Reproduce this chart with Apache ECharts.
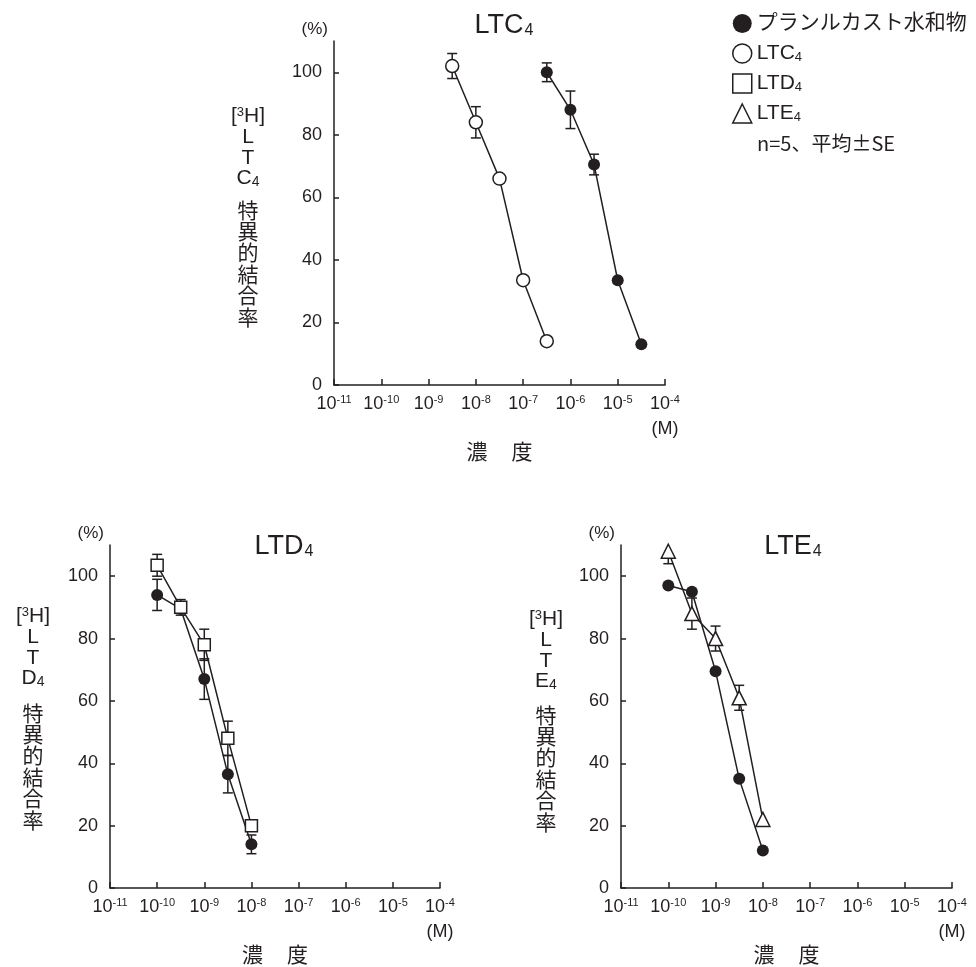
<!DOCTYPE html>
<html>
<head>
<meta charset="utf-8">
<script src="https://cdn.jsdelivr.net/npm/echarts@6/dist/echarts.min.js"></script>
<style>
html,body{margin:0;padding:0;background:#fff;}
#main{width:976px;height:967px;}
</style>
</head>
<body>
<div id="main"></div>
<script>
// ---------- data ----------
const drugName = 'プランルカスト水和物';
const xTickExponents = [-11, -10, -9, -8, -7, -6, -5, -4];
const yTicks = [0, 20, 40, 60, 80, 100];

// LTC4 panel
const ltc4Conc = [3.16e-9, 1e-8, 3.16e-8, 1e-7, 3.16e-7];
const ltc4Values = [102, 84, 66, 33.5, 14];
const ltc4SE = [4, 5, 0, 0, 0];
const ltc4DrugConc = [3.16e-7, 1e-6, 3.16e-6, 1e-5, 3.16e-5];
const ltc4DrugValues = [100, 88, 70.5, 33.5, 13];
const ltc4DrugSE = [3, 6, 3.3, 0, 0];

// LTD4 panel
const ltd4Conc = [1e-10, 3.16e-10, 1e-9, 3.16e-9, 1e-8];
const ltd4Values = [103.5, 90, 78, 48, 20];
const ltd4SE = [3.5, 2.5, 5, 5.5, 0];
const ltd4DrugValues = [94, 89.5, 67, 36.5, 14];
const ltd4DrugSE = [5, 0, 6.5, 6, 3];

// LTE4 panel
const lte4Conc = [1e-10, 3.16e-10, 1e-9, 3.16e-9, 1e-8];
const lte4Values = [108, 88, 80, 61, 22];
const lte4SE = [4, 5, 4, 4, 0];
const lte4DrugValues = [97, 95, 69.5, 35, 12];
const lte4DrugSE = [0, 0, 0, 0, 0];

// ---------- styling ----------
const INK = '#231f20';
const FONT = "'Liberation Sans', 'Noto Sans CJK JP', sans-serif";
const JFONT = "'Noto Sans CJK JP', 'Liberation Sans', sans-serif";

const grids = [
  {left: 334, top: 41, width: 331, height: 344},
  {left: 110, top: 545, width: 330, height: 343},
  {left: 621, top: 545, width: 331, height: 343}
];

function xAxis(gi) {
  return {
    type: 'log', logBase: 10, gridIndex: gi,
    min: Math.pow(10, xTickExponents[0]),
    max: Math.pow(10, xTickExponents[xTickExponents.length - 1]),
    interval: 1,
    name: '{c|濃}{g|}{c|度}', nameLocation: 'middle', nameGap: 56,
    nameTextStyle: {fontFamily: JFONT, fontSize: 21, color: INK,
      rich: {c: {fontFamily: JFONT, fontSize: 21, color: INK}, g: {width: 24}}},
    axisLine: {show: true, lineStyle: {color: INK, width: 1.5}},
    axisTick: {show: true, inside: true, length: 6, lineStyle: {color: INK, width: 1.5}},
    splitLine: {show: false},
    minorTick: {show: false},
    axisLabel: {
      show: true, margin: 9, color: INK, fontFamily: FONT, fontSize: 18,
      showMinLabel: true, showMaxLabel: true,
      formatter: function (v) {
        const e = Math.round(Math.log10(v));
        let s = '10{sup|' + e + '}';
        if (e === xTickExponents[xTickExponents.length - 1]) s += '\n{m|(M)}';
        return s;
      },
      rich: {
        sup: {fontSize: 11, verticalAlign: 'top', color: INK, fontFamily: FONT, lineHeight: 20},
        m: {fontSize: 18, color: INK, fontFamily: FONT, lineHeight: 26, padding: [4, 0, 0, 0]}
      }
    }
  };
}
function yAxis(gi) {
  return {
    type: 'value', gridIndex: gi, min: 0, max: 110, interval: 20,
    name: '(%)', nameLocation: 'end', nameGap: 3,
    nameTextStyle: {fontFamily: FONT, fontSize: 17, color: INK, align: 'right', padding: [0, 6, 0, 0]},
    axisLine: {show: true, lineStyle: {color: INK, width: 1.5}},
    axisTick: {show: true, inside: true, length: 5, lineStyle: {color: INK, width: 1.5},
      customValues: yTicks},
    splitLine: {show: false},
    axisLabel: {show: true, margin: 12, color: INK, fontFamily: FONT, fontSize: 18,
      customValues: yTicks}
  };
}

function lineSeries(name, gi, conc, vals, symbol, size, filled) {
  return {
    type: 'line', name: name, xAxisIndex: gi, yAxisIndex: gi,
    data: conc.map((c, i) => [c, vals[i]]),
    symbol: symbol, symbolSize: size, showSymbol: true,
    lineStyle: {color: INK, width: 1.5},
    itemStyle: filled ? {color: INK, borderWidth: 0} : {color: '#ffffff', borderColor: INK, borderWidth: 1.5},
    emphasis: {disabled: true},
    z: 3, animation: false
  };
}
function errSeries(name, gi, conc, vals, se) {
  return {
    type: 'custom', name: name, xAxisIndex: gi, yAxisIndex: gi, clip: true,
    data: conc.map((c, i) => [c, vals[i], se[i]]).filter(d => d[2] > 0),
    encode: {x: 0, y: 1},
    itemStyle: {color: INK},
    renderItem: function (params, api) {
      const x = api.value(0), y = api.value(1), e = api.value(2);
      const hi = api.coord([x, y + e]);
      const lo = api.coord([x, y - e]);
      const w = 5;
      const st = {stroke: INK, lineWidth: 1.5};
      return {type: 'group', children: [
        {type: 'line', shape: {x1: hi[0], y1: hi[1], x2: lo[0], y2: lo[1]}, style: st},
        {type: 'line', shape: {x1: hi[0] - w, y1: hi[1], x2: hi[0] + w, y2: hi[1]}, style: st},
        {type: 'line', shape: {x1: lo[0] - w, y1: lo[1], x2: lo[0] + w, y2: lo[1]}, style: st}
      ]};
    },
    z: 2, animation: false, silent: true
  };
}

function titleFor(text, cx, top) {
  return {
    text: text.replace(/(\d)$/, '{s|$1}'),
    left: cx, top: top, textAlign: 'center',
    textStyle: {fontFamily: FONT, fontSize: 27, fontWeight: 'normal', color: INK,
      rich: {s: {fontSize: 16, fontFamily: FONT, color: INK, verticalAlign: 'bottom', padding: [0, 0, 0, 1]}}}
  };
}

function yTitle(cx, topLatin, topCjk, sub) {
  return [
    {type: 'text', x: cx, y: topLatin, silent: true,
      style: {text: '[{sup|3}H]\nL\nT\n' + sub + '{sub|4}', align: 'center', verticalAlign: 'top',
        font: '21px ' + FONT, fill: INK, lineHeight: 20.7,
        rich: {sup: {fontSize: 13, fontFamily: FONT, verticalAlign: 'top', lineHeight: 20.7, fill: INK},
               sub: {fontSize: 14, fontFamily: FONT, verticalAlign: 'bottom', lineHeight: 20.7, fill: INK}}}},
    {type: 'text', x: cx, y: topCjk, silent: true,
      style: {text: '特\n異\n的\n結\n合\n率', align: 'center', verticalAlign: 'top',
        font: '21px ' + JFONT, fill: INK, lineHeight: 21.4}}
  ];
}

const openStyle = {color: '#ffffff', borderColor: INK, borderWidth: 1.5};

const option = {
  backgroundColor: '#ffffff',
  animation: false,
  title: [
    titleFor('LTC4', 499, 7),
    titleFor('LTD4', 279, 528),
    titleFor('LTE4', 788, 528)
  ],
  legend: {
    orient: 'vertical', left: 732, top: 13, padding: 0,
    itemWidth: 19, itemHeight: 19, itemGap: 9,
    selectedMode: false,
    textStyle: {fontFamily: FONT, fontSize: 21, color: INK, padding: [0, 0, 0, 0],
      rich: {s: {fontSize: 13, fontFamily: FONT, color: INK, verticalAlign: 'bottom'}}},
    formatter: function (name) { return name.replace(/(\d)$/, '{s|$1}'); },
    data: [
      {name: drugName, icon: 'circle', itemStyle: {color: INK, borderWidth: 0}},
      {name: 'LTC4', icon: 'circle', itemStyle: openStyle},
      {name: 'LTD4', icon: 'rect', itemStyle: openStyle},
      {name: 'LTE4', icon: 'triangle', itemStyle: openStyle}
    ]
  },
  graphic: [
    {type: 'text', x: 757, y: 133, silent: true,
      style: {text: 'n=5、平均±SE', font: '20px ' + JFONT, fill: INK, verticalAlign: 'top'}}
  ].concat(yTitle(248, 106, 199, 'C'), yTitle(33, 606, 702, 'D'), yTitle(546, 609, 704, 'E')),
  grid: grids.map(g => Object.assign({containLabel: false, outerBoundsMode: 'none'}, g)),
  xAxis: [xAxis(0), xAxis(1), xAxis(2)],
  yAxis: [yAxis(0), yAxis(1), yAxis(2)],
  series: [
    errSeries('LTC4', 0, ltc4Conc, ltc4Values, ltc4SE),
    errSeries(drugName, 0, ltc4DrugConc, ltc4DrugValues, ltc4DrugSE),
    lineSeries('LTC4', 0, ltc4Conc, ltc4Values, 'circle', 13, false),
    lineSeries(drugName, 0, ltc4DrugConc, ltc4DrugValues, 'circle', 12, true),

    errSeries('LTD4', 1, ltd4Conc, ltd4Values, ltd4SE),
    errSeries(drugName, 1, ltd4Conc, ltd4DrugValues, ltd4DrugSE),
    lineSeries(drugName, 1, ltd4Conc, ltd4DrugValues, 'circle', 12, true),
    lineSeries('LTD4', 1, ltd4Conc, ltd4Values, 'rect', 12, false),

    errSeries('LTE4', 2, lte4Conc, lte4Values, lte4SE),
    errSeries(drugName, 2, lte4Conc, lte4DrugValues, lte4DrugSE),
    lineSeries(drugName, 2, lte4Conc, lte4DrugValues, 'circle', 12, true),
    lineSeries('LTE4', 2, lte4Conc, lte4Values, 'triangle', 14, false)
  ]
};

const chart = echarts.init(document.getElementById('main'), null, {renderer: 'canvas'});
chart.setOption(option);
</script>
</body>
</html>
